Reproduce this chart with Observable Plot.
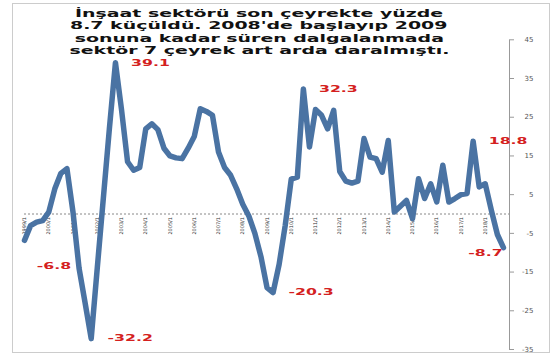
<!DOCTYPE html>
<html><head><meta charset="utf-8">
<script src="https://cdn.jsdelivr.net/npm/d3@7"></script>
<script src="https://cdn.jsdelivr.net/npm/@observablehq/plot@0.6"></script>
<style>
body{margin:0;background:#fff;}
#wrap{position:relative;width:555px;height:355px;overflow:hidden;background:#fff;}
#border{position:absolute;left:12px;top:3px;width:536px;height:348px;border:1px solid #cccccc;pointer-events:none;}
#title{position:absolute;left:0;top:8px;width:518px;text-align:center;font-family:"DejaVu Sans";font-weight:bold;font-size:11px;line-height:12.4px;color:#111;}
#title span{display:inline-block;transform:scaleX(1.72);white-space:nowrap;line-height:12.4px;height:12.4px;}
</style></head><body>
<div id="wrap"><div id="chart"></div><div id="border"></div>
<div id="title"><span>İnşaat sektörü son çeyrekte yüzde</span><br><span>8.7 küçüldü. 2008'de başlayıp 2009</span><br><span>sonuna kadar süren dalgalanmada</span><br><span>sektör 7 çeyrek art arda daralmıştı.</span></div>
</div>
<script>
// Quarterly growth (%) 1999/1 .. 2018/4
const startYear = 1999;
const values = [
 -6.8, -3.0, -2.1, -1.7,
  0.5,  6.5, 10.5, 11.7,
  0.5, -14.0, -23.0, -32.2,
 -14.0, 4.0, 22.0, 39.1,
 27.0, 13.5, 11.3, 12.0,
 22.0, 23.3, 21.8, 17.0,
 15.0, 14.5, 14.3, 17.0,
 20.0, 27.2, 26.5, 25.5,
 16.0, 12.0, 10.0, 6.5,
  2.5, -0.5, -5.0, -11.0,
 -19.0, -20.3, -13.0, -3.0,
  9.0,  9.5, 32.3, 17.3,
 27.0, 25.5, 22.0, 26.8,
 11.0,  8.5,  8.0,  8.5,
 19.5, 14.7, 14.3, 10.8,
 19.0,  0.5,  2.0,  3.5,
 -1.2,  9.1,  4.0,  7.8,
  3.1, 12.6,  3.1,  4.0,
  5.0,  5.3, 18.8,  7.0,
  7.8,  1.0, -5.3, -8.7
];
const yTicks = [45, 35, 25, 15, 5, -5, -15, -25, -35];
const yearLabels = d3.range(startYear, 2019).map(y => y + "/1");
// annotated quarters (index into values)
const annotIdx = [15, 46, 74, 0, 11, 41, 79];

const data = values.map((v, i) => ({i, v}));
const yearTicks = yearLabels.map((t, k) => ({i: k * 4, t}));
const ann = annotIdx.map(i => ({i, v: values[i], t: values[i].toFixed(1)}));
const offs = [[35,1],[35,0],[35,0],[29.5,26],[39,0],[38,0],[-18,6]];

const annMarks = ann.map((a, k) => Plot.text([a], {
  x: "i", y: "v", text: "t", dx: offs[k][0], dy: offs[k][1],
  fill: "#d42020", fontWeight: "bold", fontSize: 8.5, fontFamily: "DejaVu Sans",
  className: "ann"
}));

const chart = Plot.plot({
  width: 555, height: 355,
  marginLeft: 24, marginRight: 46, marginTop: 39.3, marginBottom: 6,
  x: {domain: [0, 80], axis: null},
  y: {domain: [-35, 45], label: null},
  style: {fontFamily: "DejaVu Sans", background: "transparent"},
  marks: [
    Plot.ruleY([0], {stroke: "#888", strokeDasharray: "2,2", strokeWidth: 1}),
    Plot.text(yearTicks, {x: "i", y: () => 0, text: "t", rotate: -90, textAnchor: "end", dy: 3, fontSize: 5, fill: "#333"}),
    Plot.frame({anchor: "right", stroke: "#999"}),
    Plot.axisY({anchor: "right", ticks: yTicks, tickSize: 4, tickPadding: 20, textAnchor: "end", fontSize: 7, color: "#555", stroke: "#999", label: null, tickFormat: d => String(d)}),
    Plot.line(data, {x: "i", y: "v", stroke: "#4a73a3", strokeWidth: 5.5, strokeLinejoin: "round"}),
    ...annMarks
  ]
});
document.getElementById("chart").appendChild(chart);
// stretch annotation glyphs horizontally to match reference
chart.querySelectorAll(".ann text").forEach(t => {
  const w = t.getComputedTextLength();
  t.setAttribute("textLength", (w * 1.85).toFixed(1));
  t.setAttribute("lengthAdjust", "spacingAndGlyphs");
});
</script>
</body></html>
